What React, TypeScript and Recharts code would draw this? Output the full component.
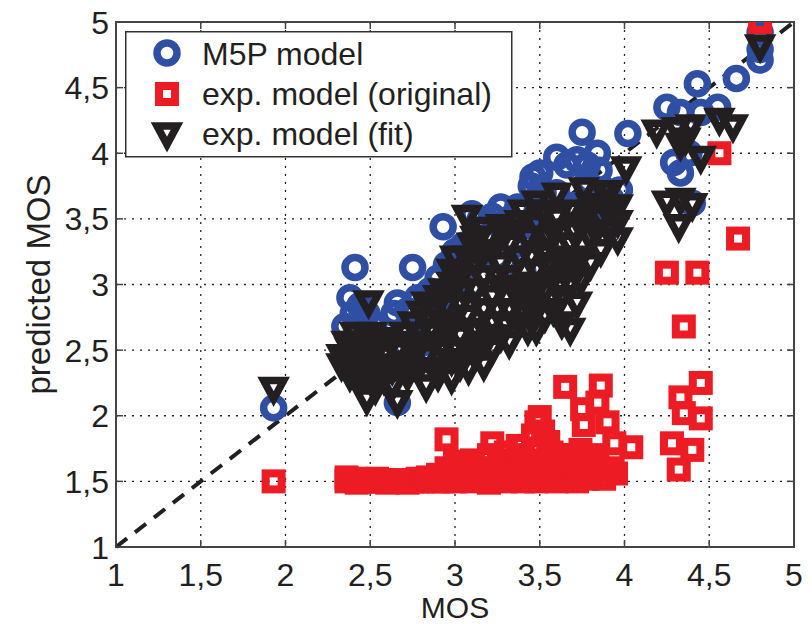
import React from 'react';
import {
  ScatterChart,
  Scatter,
  XAxis,
  YAxis,
  CartesianGrid,
  ReferenceLine,
  ReferenceArea,
  Legend,
} from 'recharts';

const BLUE = '#2e4fa3';
const RED = '#ed1c24';
const BLACK = '#231f20';
const FONT = "'Liberation Sans', Arial, Helvetica, sans-serif";

const PLOT_W = 678;
const PLOT_H = 525;

// axis ticks (MOS scale, comma decimals)
const mosTicks = [1, 1.5, 2, 2.5, 3, 3.5, 4, 4.5, 5];

// [MOS, predicted MOS]
const m5pModel: [number, number][] = [
  [1.93, 2.06],
  [2.41, 3.13], [2.38, 2.9], [2.44, 2.84], [2.35, 2.68], [2.42, 2.62], [2.48, 2.78],
  [2.52, 2.7], [2.55, 2.6], [2.46, 2.5], [2.58, 2.5], [2.5, 2.4], [2.4, 2.78],
  [2.75, 3.13], [2.66, 2.86], [2.64, 2.78], [2.72, 2.8], [2.7, 2.62], [2.78, 2.9],
  [2.82, 2.75], [2.85, 2.95], [2.66, 2.1], [2.6, 2.45], [2.8, 2.55],
  [2.9, 3.05], [2.95, 3.15], [2.93, 3.44], [3.0, 3.25], [3.05, 3.3], [3.08, 3.15],
  [3.1, 3.54], [3.15, 3.5], [3.18, 3.35], [3.22, 3.52], [2.93, 2.9], [3.02, 3.0],
  [3.27, 3.59], [3.32, 3.5], [3.37, 3.59], [3.42, 3.45], [3.45, 3.75], [3.46, 3.82],
  [3.5, 3.85], [3.48, 3.65], [3.52, 3.7], [3.35, 3.3], [3.25, 3.2], [3.4, 3.1],
  [3.6, 3.97], [3.66, 3.91], [3.75, 4.16], [3.72, 3.95], [3.84, 4.0], [3.78, 3.91],
  [3.85, 3.87], [3.78, 3.78], [3.88, 3.72], [3.92, 3.65], [3.97, 3.72], [4.02, 4.15],
  [3.6, 3.7], [3.7, 3.6], [3.82, 3.55], [3.9, 3.5], [3.55, 3.4], [3.65, 3.3],
  [4.25, 4.35], [4.33, 4.31], [4.43, 4.53], [4.45, 4.31], [4.55, 4.35], [4.66, 4.57],
  [4.29, 3.93], [4.33, 3.85], [4.4, 3.62], [4.38, 4.0], [4.8, 4.71], [4.8, 4.79],
  [4.8, 4.92],
];

const expOriginal: [number, number][] = [
  [1.93, 1.5],
  [2.36, 1.5], [2.36, 1.53], [2.38, 1.51], [2.42, 1.52], [2.42, 1.49], [2.45, 1.5],
  [2.48, 1.51], [2.48, 1.5], [2.51, 1.5], [2.54, 1.5], [2.54, 1.52], [2.57, 1.51],
  [2.6, 1.49], [2.6, 1.51], [2.63, 1.5], [2.66, 1.5], [2.69, 1.5], [2.72, 1.51],
  [2.72, 1.49], [2.75, 1.5], [2.78, 1.5], [2.78, 1.52], [2.81, 1.5], [2.84, 1.51],
  [2.84, 1.53], [2.87, 1.51], [2.9, 1.5], [2.9, 1.55], [2.93, 1.5], [2.95, 1.52],
  [2.95, 1.6], [2.95, 1.82], [3.0, 1.5], [3.0, 1.58], [3.0, 1.65], [3.02, 1.55],
  [3.05, 1.52], [3.05, 1.62], [3.07, 1.58], [3.1, 1.5], [3.1, 1.55], [3.1, 1.66],
  [3.12, 1.6], [3.15, 1.51], [3.15, 1.6], [3.17, 1.55], [3.2, 1.49], [3.2, 1.56],
  [3.2, 1.7], [3.22, 1.79], [3.24, 1.57], [3.26, 1.52], [3.26, 1.62], [3.28, 1.66],
  [3.3, 1.5], [3.3, 1.58], [3.3, 1.72], [3.33, 1.6], [3.35, 1.53], [3.35, 1.65],
  [3.37, 1.77], [3.38, 1.55], [3.4, 1.5], [3.4, 1.6], [3.4, 1.7], [3.42, 1.62],
  [3.45, 1.52], [3.45, 1.66], [3.46, 1.85], [3.48, 1.5], [3.48, 1.75], [3.48, 1.95],
  [3.5, 1.58], [3.5, 1.99], [3.52, 1.65], [3.52, 1.88], [3.55, 1.52], [3.55, 1.62],
  [3.55, 1.8], [3.57, 1.72], [3.58, 1.55], [3.6, 1.5], [3.6, 1.7], [3.62, 1.6],
  [3.65, 1.55], [3.65, 1.65], [3.65, 2.22], [3.68, 1.7], [3.7, 1.52], [3.7, 1.6],
  [3.72, 1.5], [3.75, 1.58], [3.74, 1.74], [3.76, 1.93], [3.75, 2.05], [3.78, 1.52],
  [3.8, 1.55], [3.8, 1.65], [3.82, 1.7], [3.84, 1.61], [3.84, 2.1], [3.86, 2.23],
  [3.88, 1.52], [3.9, 1.58], [3.9, 1.95], [3.93, 1.6], [3.94, 1.79], [3.95, 1.56],
  [4.04, 1.76],
  [4.25, 3.09], [4.43, 3.09], [4.35, 2.68], [4.45, 2.25], [4.33, 2.14], [4.35, 2.02],
  [4.45, 1.98], [4.28, 1.79], [4.4, 1.74], [4.32, 1.59], [4.56, 4.0], [4.67, 3.35],
  [4.8, 5.0],
];

const expFit: [number, number][] = [
  [1.93, 2.2],
  [2.33, 2.38], [2.33, 2.45], [2.36, 2.55], [2.38, 2.5], [2.38, 2.3], [2.38, 2.42],
  [2.41, 2.62], [2.43, 2.55], [2.43, 2.35], [2.43, 2.25], [2.45, 2.48], [2.48, 2.12],
  [2.48, 2.6], [2.48, 2.4], [2.49, 2.86], [2.51, 2.62], [2.53, 2.3], [2.53, 2.5],
  [2.53, 2.2], [2.56, 2.55], [2.58, 2.38], [2.58, 2.45], [2.58, 2.28], [2.61, 2.58],
  [2.63, 2.22], [2.63, 2.35], [2.66, 2.1], [2.66, 2.48], [2.68, 2.35], [2.7, 2.62],
  [2.72, 2.3], [2.72, 2.4], [2.72, 2.55], [2.75, 2.7], [2.78, 2.35], [2.78, 2.5],
  [2.78, 2.62], [2.8, 2.78], [2.83, 2.22], [2.83, 2.45], [2.83, 2.72], [2.83, 2.85],
  [2.86, 2.65], [2.88, 2.35], [2.88, 2.55], [2.88, 2.8], [2.9, 2.9], [2.93, 2.5],
  [2.93, 2.65], [2.93, 2.95], [2.95, 2.82], [2.98, 2.28], [2.98, 2.42], [2.98, 2.7],
  [2.98, 3.0], [2.98, 3.1], [3.0, 3.2], [3.03, 2.38], [3.03, 2.6], [3.03, 2.85],
  [3.03, 3.05], [3.05, 2.95], [3.07, 2.5], [3.07, 2.75], [3.07, 3.2], [3.07, 3.51],
  [3.1, 3.3], [3.12, 2.45], [3.12, 2.65], [3.12, 2.95], [3.12, 3.15], [3.12, 3.35],
  [3.15, 3.2], [3.17, 2.38], [3.17, 2.55], [3.17, 2.8], [3.17, 3.05], [3.17, 3.42],
  [3.2, 3.35], [3.22, 2.5], [3.22, 2.7], [3.22, 2.9], [3.22, 3.25], [3.25, 3.05],
  [3.27, 2.6], [3.27, 2.98], [3.27, 3.15], [3.27, 3.44], [3.3, 3.4], [3.32, 2.55],
  [3.32, 2.8], [3.32, 3.05], [3.32, 3.3], [3.35, 2.95], [3.38, 2.7], [3.38, 2.9],
  [3.38, 3.2], [3.38, 3.47], [3.4, 3.55], [3.43, 2.65], [3.43, 2.85], [3.43, 3.0],
  [3.43, 3.35], [3.45, 3.2], [3.48, 2.65], [3.48, 2.8], [3.48, 3.1], [3.48, 3.45],
  [3.48, 3.62], [3.5, 3.0], [3.53, 2.75], [3.53, 2.95], [3.53, 3.25], [3.53, 3.55],
  [3.55, 3.35], [3.58, 2.8], [3.58, 3.05], [3.58, 3.4], [3.6, 3.68], [3.6, 3.5],
  [3.63, 2.7], [3.63, 2.9], [3.63, 3.2], [3.65, 3.1], [3.68, 2.65], [3.68, 3.0],
  [3.68, 3.3], [3.68, 3.55], [3.7, 3.4], [3.72, 2.85], [3.74, 3.02], [3.74, 3.2],
  [3.74, 3.45], [3.76, 3.72], [3.78, 3.55], [3.8, 3.15], [3.8, 3.35], [3.8, 3.6],
  [3.83, 3.4], [3.86, 3.25], [3.86, 3.5], [3.88, 3.7], [3.9, 3.55], [3.91, 3.4],
  [3.91, 3.7], [3.96, 3.34], [3.96, 3.47], [3.96, 3.59], [4.01, 3.88],
  [2.9, 2.3], [2.95, 2.6], [3.08, 2.35], [3.14, 2.55], [3.2, 2.6], [3.25, 2.8],
  [3.3, 2.68], [3.4, 2.78], [3.45, 2.95], [3.55, 3.15], [3.62, 3.0], [3.7, 3.15],
  [4.19, 4.16], [4.31, 4.18], [4.33, 4.06], [4.36, 4.1], [4.39, 4.2], [4.45, 3.96],
  [4.56, 4.25], [4.64, 4.2], [4.25, 3.62], [4.33, 3.64], [4.4, 3.6], [4.32, 3.44],
  [4.8, 4.81],
];

const diagonal = [
  { x: 1, y: 1 },
  { x: 5, y: 5 },
];

const toPoints = (pairs: [number, number][]) => pairs.map(([x, y]) => ({ x, y }));
const fmt = (v: number) => String(v).replace('.', ',');

const CircleMarker = ({ cx, cy }: any) => (
  <circle cx={cx} cy={cy} r={10} fill="none" stroke={BLUE} strokeWidth={7.5} />
);

const SquareMarker = ({ cx, cy }: any) => (
  <rect x={cx - 8} y={cy - 8} width={16} height={16} fill="none" stroke={RED} strokeWidth={8} />
);

const TriangleMarker = ({ cx, cy }: any) => (
  <path
    d={`M${cx - 10},${cy - 9}L${cx + 10},${cy - 9}L${cx},${cy + 9.5}Z`}
    fill="none"
    stroke={BLACK}
    strokeWidth={7.5}
    strokeLinejoin="miter"
  />
);

const XTick = ({ x, y, payload }: any) => (
  <g>
    <line x1={x} y1={y} x2={x} y2={y - 7} stroke="#444" strokeWidth={1.5} />
    <line x1={x} y1={y - PLOT_H} x2={x} y2={y - PLOT_H + 7} stroke="#444" strokeWidth={1.5} />
    <text x={x} y={y + 39} textAnchor="middle" fontSize={32} fill={BLACK} fontFamily={FONT}>
      {fmt(payload.value)}
    </text>
  </g>
);

const YTick = ({ x, y, payload }: any) => (
  <g>
    <line x1={x} y1={y} x2={x + 7} y2={y} stroke="#444" strokeWidth={1.5} />
    <line x1={x + PLOT_W} y1={y} x2={x + PLOT_W - 7} y2={y} stroke="#444" strokeWidth={1.5} />
    <text x={x - 7} y={y + 11.5} textAnchor="end" fontSize={32} fill={BLACK} fontFamily={FONT}>
      {fmt(payload.value)}
    </text>
  </g>
);

const legendItems = [
  { name: 'M5P model', Marker: CircleMarker },
  { name: 'exp. model (original)', Marker: SquareMarker },
  { name: 'exp. model (fit)', Marker: TriangleMarker },
];

const LegendBox = () => (
  <svg width={388} height={127} style={{ display: 'block' }}>
    <rect x={0.75} y={0.75} width={386} height={125} fill="#fff" stroke="#333" strokeWidth={1.5} />
    {legendItems.map((item, i) => (
      <g key={item.name}>
        <item.Marker cx={42} cy={22 + i * 41} />
        <text x={77} y={34 + i * 40} fontSize={32} fill={BLACK} fontFamily={FONT}>
          {item.name}
        </text>
      </g>
    ))}
  </svg>
);

export default function App() {
  return (
    <div
      style={{
        position: 'absolute',
        left: 0,
        top: 0,
        width: 812,
        height: 624,
        background: '#fff',
        fontFamily: FONT,
      }}
    >
      <ScatterChart width={812} height={624} margin={{ top: 22, right: 18, left: 0, bottom: 0 }}>
        <CartesianGrid stroke="#222" strokeWidth={1.3} strokeDasharray="2 6" />
        <XAxis
          type="number"
          dataKey="x"
          domain={[1, 5]}
          ticks={mosTicks}
          allowDataOverflow
          axisLine={false}
          tickLine={false}
          tickSize={0}
          tickMargin={0}
          height={77}
          tick={<XTick />}
          label={{
            value: 'MOS',
            position: 'center',
            dy: 22,
            style: { fontSize: 30, fill: BLACK, fontFamily: FONT },
          }}
        />
        <YAxis
          type="number"
          dataKey="y"
          domain={[1, 5]}
          ticks={mosTicks}
          allowDataOverflow
          axisLine={false}
          tickLine={false}
          tickSize={0}
          tickMargin={0}
          width={116}
          tick={<YTick />}
          label={{
            value: 'predicted MOS',
            position: 'center',
            angle: -90,
            dx: -20,
            style: { fontSize: 33, fill: BLACK, fontFamily: FONT },
          }}
        />
        <Scatter name="M5P model" data={toPoints(m5pModel)} shape={<CircleMarker />} isAnimationActive={false} />
        <Scatter name="exp. model (original)" data={toPoints(expOriginal)} shape={<SquareMarker />} isAnimationActive={false} />
        <Scatter name="exp. model (fit)" data={toPoints(expFit)} shape={<TriangleMarker />} isAnimationActive={false} />
        <ReferenceLine
          segment={diagonal}
          stroke={BLACK}
          strokeWidth={4}
          strokeDasharray="14 10"
        />
        <ReferenceArea x1={1} x2={5} y1={1} y2={5} fill="none" stroke="#444" strokeWidth={2} />
        <Legend
          layout="horizontal"
          align="center"
          verticalAlign="middle"
          wrapperStyle={{ left: 125, top: 31, width: 388, height: 127 }}
          content={() => <LegendBox />}
        />
      </ScatterChart>
    </div>
  );
}
